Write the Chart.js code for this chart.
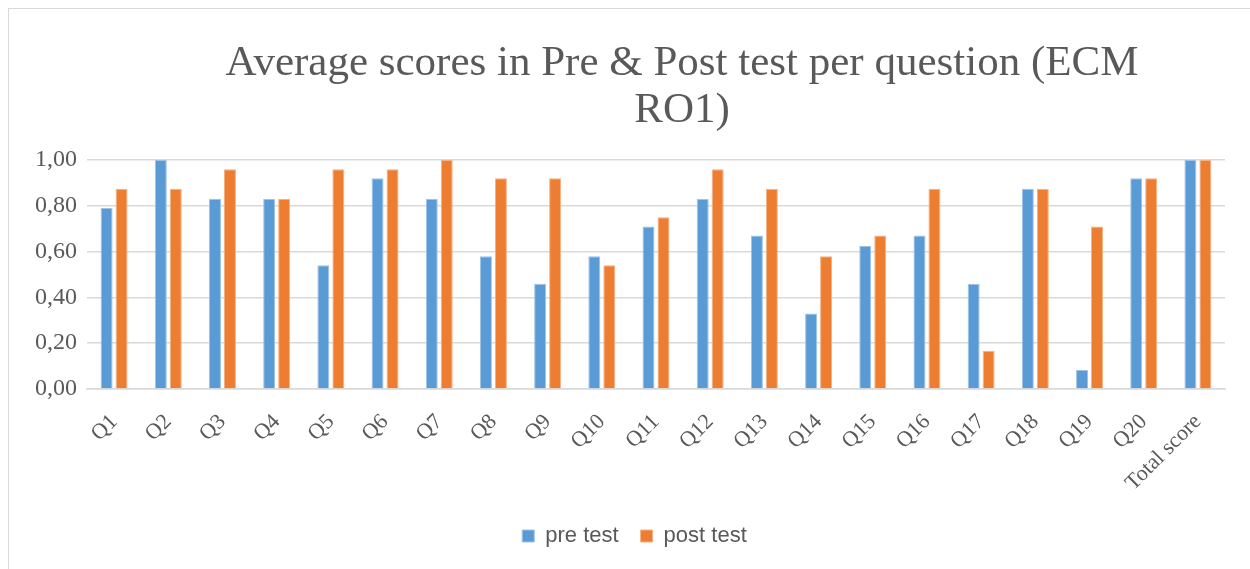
<!DOCTYPE html>
<html lang="en">
<head>
  <meta charset="UTF-8" />
  <title>Average scores in Pre & Post test per question</title>
  <style>
    html,body{margin:0;padding:0;background:#fff}
    #wrap{position:relative;width:1250px;height:569px;overflow:hidden}
    #frame{position:absolute;left:8px;top:8px;width:1260px;height:580px;border:1px solid #d9d9d9;box-sizing:border-box;pointer-events:none}
    #title{position:absolute;left:182px;width:1000px;top:37px;text-align:center;
      font-family:"Liberation Serif","Times New Roman",serif;font-size:43px;line-height:47px;color:#595959}
    canvas{display:block}
  </style>
</head>
<body>
<div id="wrap">
  <canvas id="chart" width="1250" height="569"></canvas>
  <div id="frame"></div>
  <div id="title">Average scores in Pre &amp; Post test per question (ECM<br>RO1)</div>
</div>

<script src="https://cdn.jsdelivr.net/npm/chart.js"></script>
<script>
  /* ---------- data ---------- */
  const categories = ['Q1','Q2','Q3','Q4','Q5','Q6','Q7','Q8','Q9','Q10','Q11','Q12','Q13','Q14','Q15','Q16','Q17','Q18','Q19','Q20','Total score'];
  const preTest  = [0.79,1.00,0.83,0.83,0.54,0.92,0.83,0.58,0.46,0.58,0.71,0.83,0.67,0.33,0.625,0.67,0.46,0.875,0.083,0.92,1.00];
  const postTest = [0.875,0.875,0.96,0.83,0.96,0.96,1.00,0.92,0.92,0.54,0.75,0.96,0.875,0.58,0.67,0.875,0.167,0.875,0.71,0.92,1.00];
  const yTicks = [0,0.2,0.4,0.6,0.8,1.0];

  const serif = '"Liberation Serif","Times New Roman",serif';
  const grey = '#595959';

  // nudge the legend a bit right, it sits under the plot centre in the original
  const legendShift = {
    id:'legendShift',
    afterLayout(chart){
      if(!chart.legend) return;
      chart.legend.left += 17;
      chart.legend.right += 17;
    }
  };

  const ctx = document.getElementById('chart').getContext('2d');
  const chart = new Chart(ctx,{
    type:'bar',
    data:{
      labels:categories,
      datasets:[
        {label:'pre test', data:preTest, backgroundColor:'#5b9bd5', borderColor:'#9dc3e6', borderWidth:1,
          categoryPercentage:0.553, barPercentage:0.8},
        {label:'post test', data:postTest, backgroundColor:'#ed7d31', borderColor:'#f4b183', borderWidth:1,
          categoryPercentage:0.553, barPercentage:0.8}
      ]
    },
    plugins:[legendShift],
    options:{
      responsive:false,
      animation:false,
      layout:{padding:{top:160,left:10,right:25,bottom:12}},
      plugins:{
        title:{display:false},
        tooltip:{enabled:false},
        legend:{
          position:'bottom',
          labels:{boxWidth:12,boxHeight:12,padding:22,color:grey,
            font:{family:'"Liberation Sans",Arial,sans-serif',size:22}}
        }
      },
      scales:{
        x:{
          grid:{display:false,drawTicks:false},
          border:{color:'#d9d9d9',width:1.5},
          ticks:{color:grey,font:{family:serif,size:22},minRotation:45,maxRotation:45,padding:20,autoSkip:false},
          afterFit:s=>{s.height=114;}
        },
        y:{
          min:0,max:1,
          afterBuildTicks:s=>{s.ticks=yTicks.map(v=>({value:v}));},
          grid:{color:'#d9d9d9',lineWidth:1.5,drawTicks:false},
          border:{display:false},
          ticks:{color:grey,padding:10,font:{family:serif,size:24},
            callback:v=>v.toFixed(2).replace('.',',')},
          afterFit:s=>{s.width=77;}
        }
      }
    }
  });
</script>
</body>
</html>
